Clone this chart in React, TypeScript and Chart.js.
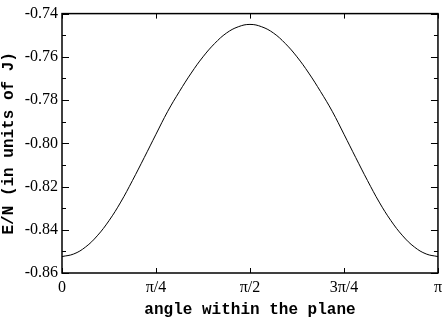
import React, { useEffect, useRef } from "react";
import { Chart, registerables } from "chart.js";

Chart.register(...registerables);

// angle in units of pi (steps of 1/32)
const angleSteps = [0, 1, 2, 3, 4, 5, 6, 7, 8, 9, 10, 11, 12, 13, 14, 15, 16, 17, 18, 19, 20, 21, 22, 23, 24, 25, 26, 27, 28, 29, 30, 31, 32];
const energyPerSite = [
  -0.8524, -0.8512, -0.848, -0.8428, -0.8358, -0.8272, -0.8172, -0.8066, -0.7958,
  -0.7852, -0.776, -0.7675, -0.76, -0.7538, -0.749, -0.7461, -0.745,
  -0.7461, -0.749, -0.7538, -0.76, -0.7675, -0.776, -0.7852, -0.7958,
  -0.8066, -0.8172, -0.8272, -0.8358, -0.8428, -0.848, -0.8512, -0.8524,
];
const xTickFractions = [0, 0.25, 0.5, 0.75, 1];
const xTickLabels = ["0", "π/4", "π/2", "3π/4", "π"];
const yMin = -0.86;
const yMax = -0.74;
const yMajorStep = 0.02;
const yMinorStep = 0.01;

const frameTicks = {
  id: "frameTicks",
  afterDraw(chart: any) {
    const { ctx, chartArea } = chart;
    const { left, right, top, bottom } = chartArea;
    const xs = chart.scales.x;
    const ys = chart.scales.y;
    ctx.save();
    ctx.strokeStyle = "#000";
    ctx.lineWidth = 1;
    ctx.beginPath();
    xTickFractions.forEach((f) => {
      const px = Math.round(xs.getPixelForValue(f * Math.PI)) + 0.5;
      ctx.moveTo(px, bottom);
      ctx.lineTo(px, bottom - 5);
      ctx.moveTo(px, top);
      ctx.lineTo(px, top + 5);
    });
    const n = Math.round((yMax - yMin) / yMinorStep);
    for (let i = 0; i <= n; i++) {
      const v = yMin + i * yMinorStep;
      const major = i % Math.round(yMajorStep / yMinorStep) === 0;
      const len = major ? 7 : 4;
      const py = Math.round(ys.getPixelForValue(v)) + 0.5;
      ctx.moveTo(left, py);
      ctx.lineTo(left + len, py);
      ctx.moveTo(right, py);
      ctx.lineTo(right - len, py);
    }
    ctx.stroke();
    ctx.lineWidth = 1.5;
    ctx.strokeRect(left, top, right - left, bottom - top);
    ctx.restore();
  },
};

export default function App() {
  const ref = useRef<HTMLCanvasElement>(null);
  useEffect(() => {
    document.body.style.margin = "0";
    const data = angleSteps.map((k, i) => ({ x: (k / 32) * Math.PI, y: energyPerSite[i] }));
    const chart = new Chart(ref.current!, {
      type: "line",
      data: {
        datasets: [
          {
            data,
            borderColor: "#000",
            borderWidth: 1,
            pointRadius: 0,
            tension: 0.4,
            fill: false,
          },
        ],
      },
      options: {
        animation: false,
        responsive: false,
        maintainAspectRatio: false,
        layout: { padding: { top: 6, right: 7, left: 0, bottom: 0 } },
        plugins: { legend: { display: false }, tooltip: { enabled: false } },
        scales: {
          x: {
            type: "linear",
            min: 0,
            max: Math.PI,
            afterBuildTicks: (scale: any) => {
              scale.ticks = xTickFractions.map((f) => ({ value: f * Math.PI }));
            },
            afterFit: (scale: any) => {
              scale.height = 45;
            },
            grid: { display: false, drawTicks: false },
            border: { display: false },
            ticks: {
              padding: 5,
              color: "#000",
              font: { family: "Liberation Serif", size: 16 },
              maxRotation: 0,
              autoSkip: false,
              callback: (_v: any, i: number) => xTickLabels[i],
            },
            title: {
              display: true,
              text: "angle within the plane",
              color: "#000",
              font: { family: "Liberation Mono", size: 16, weight: "bold", lineHeight: 1 },
              padding: { top: 0, bottom: 0 },
            },
          },
          y: {
            type: "linear",
            min: yMin,
            max: yMax,
            afterFit: (scale: any) => {
              scale.width = 62;
            },
            grid: { display: false, drawTicks: false },
            border: { display: false },
            ticks: {
              stepSize: yMajorStep,
              padding: 4,
              color: "#000",
              font: { family: "Liberation Serif", size: 16 },
              callback: (v: any) => Number(v).toFixed(2),
            },
            title: {
              display: true,
              text: "E/N (in units of J)",
              color: "#000",
              font: { family: "Liberation Mono", size: 16, weight: "bold", lineHeight: 1 },
              padding: { top: 1, bottom: 0 },
            },
          },
        },
      },
      plugins: [frameTicks],
    } as any);
    return () => chart.destroy();
  }, []);
  return (
    <div style={{ width: 447, height: 318 }}>
      <canvas ref={ref} width={447} height={318} style={{ display: "block", width: 447, height: 318 }} />
    </div>
  );
}
